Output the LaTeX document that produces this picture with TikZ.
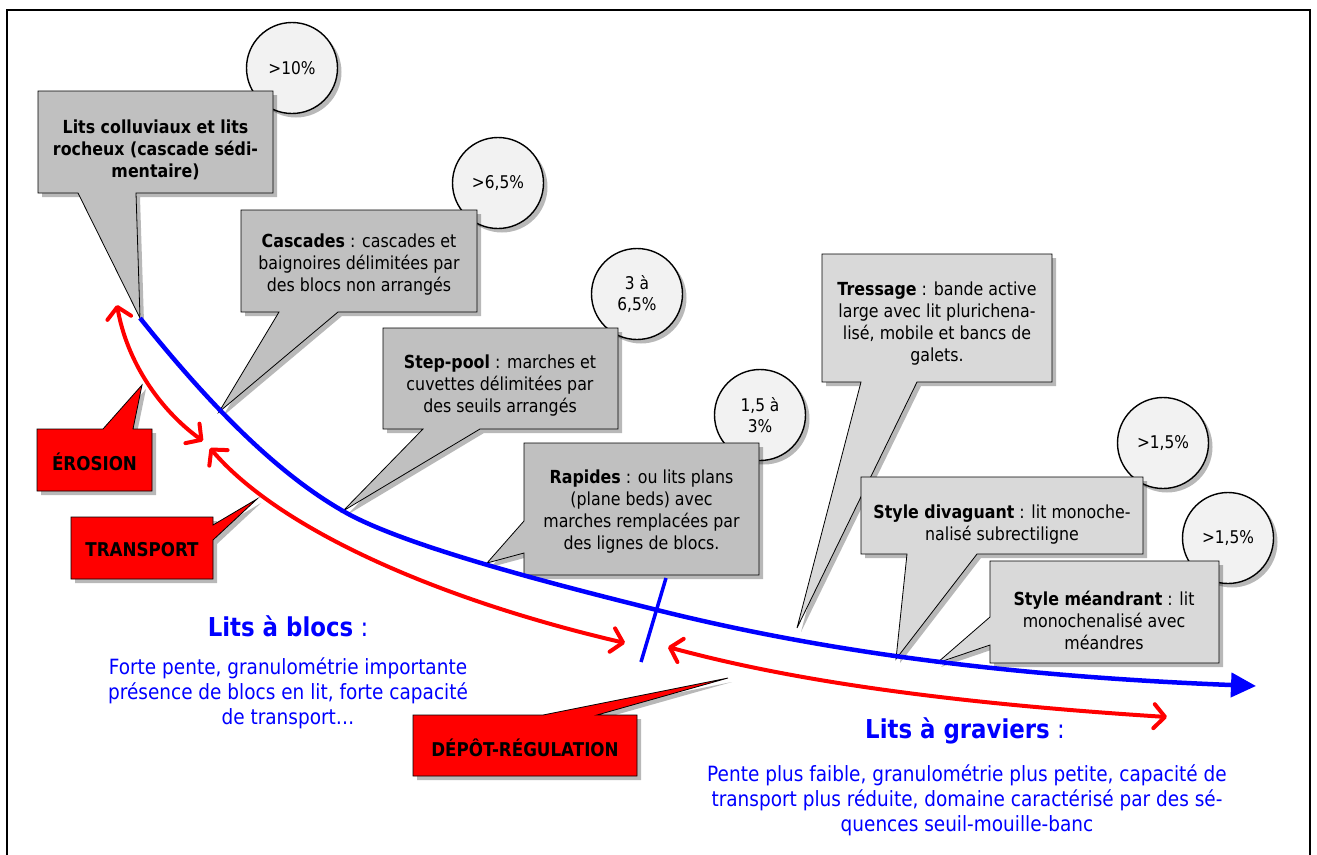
\documentclass[tikz,border=0pt]{standalone}
\usepackage{fontspec}
\setmainfont{DejaVu Sans}[FakeStretch=0.88]
\usetikzlibrary{shadows,arrows.meta}
\definecolor{boxdark}{HTML}{C0C0C0}
\definecolor{boxlight}{HTML}{D9D9D9}
\definecolor{circfill}{HTML}{F2F2F2}
\definecolor{redfill}{HTML}{FF0000}
\definecolor{pureblue}{HTML}{0000FF}
\tikzset{
  shad/.style={drop shadow={shadow xshift=4pt, shadow yshift=-4pt, opacity=0.28, fill=black}},
  darkcall/.style={fill=boxdark, draw=black, line width=0.8pt, line join=miter, shad},
  lightcall/.style={fill=boxlight, draw=black, line width=0.8pt, line join=miter, shad},
  redcall/.style={fill=redfill, draw=black, line width=0.8pt, line join=miter, shad},
  pct/.style={circle, fill=circfill, draw=black, line width=1.4pt, minimum size=91pt, inner sep=0pt, align=center, font=\fontsize{17.5}{21}\selectfont, shad},
  btext/.style={align=center, inner sep=0pt, font=\fontsize{18}{22}\selectfont},
  rtext/.style={inner sep=0pt, font=\fontsize{19}{23}\selectfont\bfseries},
  bluetitle/.style={inner sep=0pt, text=pureblue, font=\fontsize{26}{30}\selectfont},
  bluebody/.style={inner sep=0pt, align=center, text=pureblue, font=\fontsize{21}{25}\selectfont},
  bluearrow/.style={draw=pureblue, line width=4.5pt, -{Triangle[length=25pt,width=24pt]}},
  redarrow/.style={draw=redfill, line width=4pt, line cap=round,
    {Straight Barb[length=11pt,width=24pt,line cap=round,line join=round]}-{Straight Barb[length=11pt,width=24pt,line cap=round,line join=round]}},
  tick/.style={draw=pureblue, line width=3.5pt},
}
\begin{document}
\begin{tikzpicture}[x=1pt,y=-1pt]
\useasboundingbox (0,0) rectangle (1317,854);
\fill[white] (0,0) rectangle (1317,854);
\draw[line width=2pt] (7,870) -- (7,10) -- (1310,10) -- (1310,870);

% percentage circles
\node[pct] (p1) at (292,68) {>10\%};
\node[pct] (p2) at (498,183) {>6,5\%};
\node[pct] (p3) at (637,294) {3 à\\6,5\%};
\node[pct] (p4) at (760,415) {1,5 à\\3\%};
\node[pct] (p5) at (1163,443) {>1,5\%};
\node[pct] (p6) at (1228,538) {>1,5\%};

% pointer tips on the profile
\coordinate (t1) at (140,318);
\coordinate (t2) at (219,412);
\coordinate (t3) at (343,511);
\coordinate (t4) at (487,563);
\coordinate (t5) at (797,628);
\coordinate (t6) at (896,659);
\coordinate (t7) at (937,663);

% callouts
\path[darkcall] (38,91) -- (273,91) -- (273,193) -- (136,193) -- (t1) -- (78,193) -- (38,193) -- cycle;
\node[btext, font=\fontsize{18}{22}\selectfont\bfseries] (c1) at (155.5,150) {Lits colluviaux et lits\\rocheux (cascade sédi-\\mentaire)};

\path[darkcall] (241,210) -- (477,210) -- (477,312) -- (338,312) -- (t2) -- (279,312) -- (241,312) -- cycle;
\node[btext] (c2) at (359,265) {\textbf{Cascades} : cascades et\\baignoires délimitées par\\des blocs non arrangés};

\path[darkcall] (383,328) -- (618,328) -- (618,429) -- (480,429) -- (t3) -- (423,429) -- (383,429) -- cycle;
\node[btext] (c3) at (500,386) {\textbf{Step-pool} : marches et\\cuvettes délimitées par\\des seuils arrangés};

\path[darkcall] (524,443) -- (759,443) -- (759,575) -- (524,575) -- (524,553) -- (t4) -- (524,521) -- cycle;
\node[btext] (c4) at (641.5,512) {\textbf{Rapides} : ou lits plans\\(plane beds) avec\\marches remplacées par\\des lignes de blocs.};

\path[lightcall] (822,254) -- (1052,254) -- (1052,382) -- (917,382) -- (t5) -- (861,382) -- (822,382) -- cycle;
\node[btext] (c5) at (937,324) {\textbf{Tressage} : bande active\\large avec lit plurichena-\\lisé, mobile et bancs de\\galets.};

\path[lightcall] (861,477) -- (1143,477) -- (1143,554) -- (977,554) -- (t6) -- (907,554) -- (861,554) -- cycle;
\node[btext] (c6) at (1002,525) {\textbf{Style divaguant} : lit monoche-\\nalisé subrectiligne};

\path[lightcall] (990,561) -- (1219,561) -- (1219,663) -- (990,663) -- (990,645) -- (t7) -- (990,617) -- cycle;
\node[btext] (c7) at (1104,620) {\textbf{Style méandrant} : lit\\monochenalisé avec\\méandres};

% blue profile
\coordinate (kmid) at (657,610);
\coordinate (bend) at (1256,686);
\draw[bluearrow] (t1) .. controls (208,403) and (275,472) .. (t3)
  .. controls (403,546) and (557,585) .. (kmid)
  .. controls (857,660) and (1056,678) .. (bend);
\coordinate (k1) at (666,578);
\coordinate (k2) at (641,662);
\draw[tick] (k1) -- (k2);

% red arrows
\coordinate (ra) at (117,305);
\coordinate (rb) at (203,441);
\coordinate (rc) at (210,448);
\coordinate (rd) at (625,643);
\coordinate (re) at (668,647);
\coordinate (rf) at (1167,717);
\draw[redarrow] (ra) .. controls (127,362) and (160,410) .. (rb);
\draw[redarrow] (rc) .. controls (280,530) and (440,600) .. (rd);
\draw[redarrow] (re) .. controls (760,672) and (900,700) .. (rf);

% red callouts
\coordinate (e1) at (142,385);
\path[redcall] (37,429) -- (103,429) -- (e1) -- (133,429) -- (152,429) -- (152,491) -- (37,491) -- cycle;
\node[rtext] (ero) at (94.5,462) {ÉROSION};

\coordinate (e2) at (257,499);
\path[redcall] (71,517) -- (213,517) -- (213,525) -- (e2) -- (213,540) -- (213,579) -- (71,579) -- cycle;
\node[rtext] (tra) at (142,550) {TRANSPORT};

\coordinate (e3) at (728,678);
\path[redcall] (413,715) -- (543,715) -- (e3) -- (597,715) -- (637,715) -- (637,776) -- (413,776) -- cycle;
\node[rtext] (dep) at (525,748) {DÉPÔT-RÉGULATION};

% blue texts
\node[bluetitle] (lb) at (288,626) {\textbf{Lits à blocs} :};
\node[bluebody] (lbt) at (288,693) {Forte pente, granulométrie importante\\présence de blocs en lit, forte capacité\\de transport…};
\node[bluetitle] (lg) at (965,731) {\textbf{Lits à graviers} :};
\node[bluebody] (lgt) at (967,800) {Pente plus faible, granulométrie plus petite, capacité de\\transport plus réduite, domaine caractérisé par des sé-\\quences seuil-mouille-banc};
\end{tikzpicture}
\end{document}
